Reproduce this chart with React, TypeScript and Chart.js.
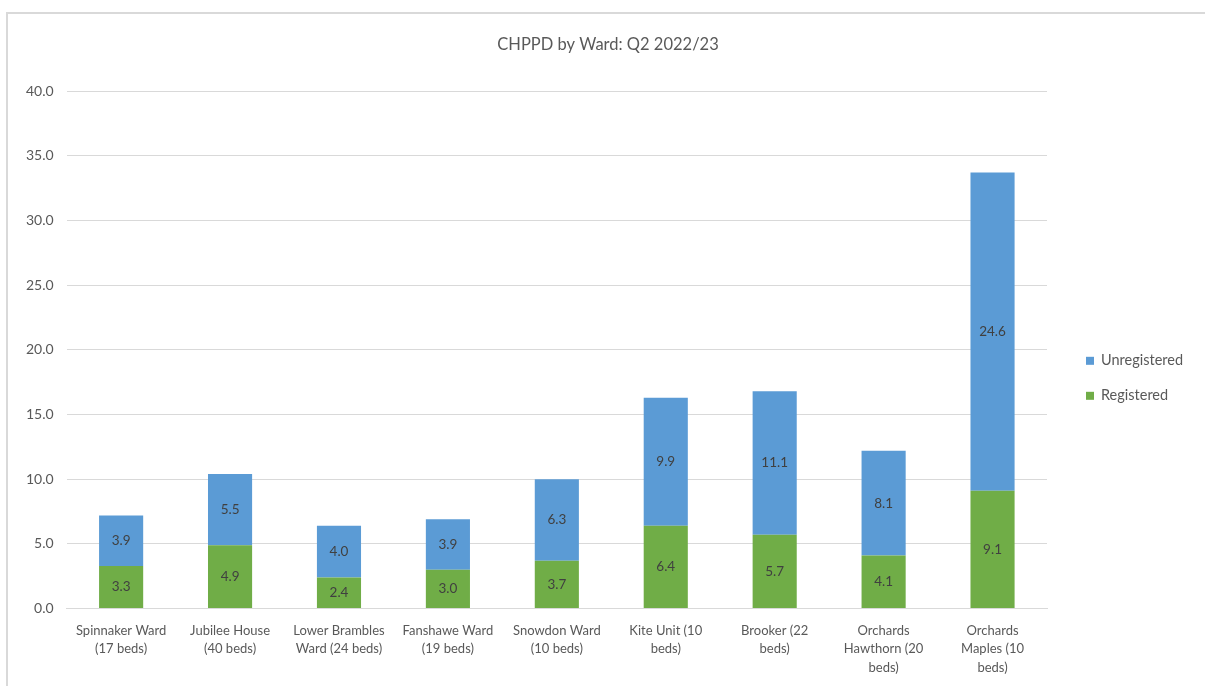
import React, { useEffect, useRef } from "react";
import { Chart, registerables } from "chart.js";

Chart.register(...registerables);

const wards: string[][] = [
  ["Spinnaker Ward", "(17 beds)"],
  ["Jubilee House", "(40 beds)"],
  ["Lower Brambles", "Ward (24 beds)"],
  ["Fanshawe Ward", "(19 beds)"],
  ["Snowdon Ward", "(10 beds)"],
  ["Kite Unit (10", "beds)"],
  ["Brooker (22", "beds)"],
  ["Orchards", "Hawthorn (20", "beds)"],
  ["Orchards", "Maples (10", "beds)"],
];

const registered = [3.3, 4.9, 2.4, 3.0, 3.7, 6.4, 5.7, 4.1, 9.1];
const unregistered = [3.9, 5.5, 4.0, 3.9, 6.3, 9.9, 11.1, 8.1, 24.6];

const chartTitle = "CHPPD by Ward: Q2 2022/23";

const FONT = "Lato, 'Open Sans', sans-serif";
const TEXT = "#595959";

// Writes each segment's value in the middle of its bar
const barValueLabels = {
  id: "barValueLabels",
  afterDatasetsDraw(chart: any) {
    const ctx = chart.ctx;
    ctx.save();
    ctx.font = `13.5px ${FONT}`;
    ctx.fillStyle = "#404040";
    ctx.textAlign = "center";
    ctx.textBaseline = "middle";
    chart.data.datasets.forEach((ds: any, di: number) => {
      const meta = chart.getDatasetMeta(di);
      meta.data.forEach((bar: any, i: number) => {
        const v = ds.data[i] as number;
        ctx.fillText(v.toFixed(1), bar.x, (bar.y + bar.base) / 2);
      });
    });
    ctx.restore();
  },
};

// Title centred across the whole canvas, legend to the right of the plot
const frameText = {
  id: "frameText",
  afterDraw(chart: any) {
    const ctx = chart.ctx;
    const area = chart.chartArea;
    ctx.save();
    ctx.font = `16.5px ${FONT}`;
    ctx.fillStyle = TEXT;
    ctx.textAlign = "center";
    ctx.textBaseline = "middle";
    ctx.fillText(chartTitle, chart.width / 2, 31);

    const mid = (area.top + area.bottom) / 2;
    const boxX = area.right + 39;
    const items = [...chart.data.datasets].reverse();
    ctx.font = `14.5px ${FONT}`;
    ctx.textAlign = "left";
    items.forEach((ds: any, i: number) => {
      const cy = mid + 11 + i * 35;
      ctx.fillStyle = ds.backgroundColor;
      ctx.fillRect(boxX, cy - 4, 8, 8);
      ctx.fillStyle = TEXT;
      ctx.fillText(ds.label, boxX + 15, cy);
    });
    ctx.restore();
  },
};

export default function App() {
  const canvasRef = useRef<HTMLCanvasElement | null>(null);

  useEffect(() => {
    if (!canvasRef.current) return;
    const chart = new Chart(canvasRef.current, {
      type: "bar",
      data: {
        labels: wards,
        datasets: [
          {
            label: "Registered",
            data: registered,
            backgroundColor: "#70AD47",
            barPercentage: 0.405,
            categoryPercentage: 1,
          },
          {
            label: "Unregistered",
            data: unregistered,
            backgroundColor: "#5B9BD5",
            barPercentage: 0.405,
            categoryPercentage: 1,
          },
        ],
      },
      options: {
        animation: false,
        responsive: false,
        layout: { padding: { left: 5, right: 161, top: 77, bottom: 12 } },
        plugins: {
          title: { display: false },
          legend: { display: false },
          tooltip: { enabled: false },
        },
        scales: {
          x: {
            stacked: true,
            grid: { display: false },
            border: { color: "#d9d9d9", width: 1 },
            ticks: {
              color: TEXT,
              font: { family: FONT, size: 13, lineHeight: 1.42 },
              padding: 5,
              maxRotation: 0,
              autoSkip: false,
            },
          },
          y: {
            stacked: true,
            min: 0,
            max: 40,
            border: { display: false },
            grid: { color: "#d9d9d9", drawTicks: false },
            ticks: {
              stepSize: 5,
              color: TEXT,
              font: { family: FONT, size: 14 },
              padding: 13,
              callback: (v: any) => Number(v).toFixed(1),
            },
          },
        },
      },
      plugins: [barValueLabels, frameText],
    });
    return () => chart.destroy();
  }, []);

  return (
    <div style={{ position: "fixed", inset: 0, overflow: "hidden", background: "#fff" }}>
      <div
        style={{
          position: "absolute",
          left: 6,
          top: 12,
          width: 1210,
          height: 700,
          border: "2px solid #d9d9d9",
          background: "#fff",
        }}
      >
        <canvas ref={canvasRef} width={1200} height={680} style={{ display: "block" }} />
      </div>
    </div>
  );
}
